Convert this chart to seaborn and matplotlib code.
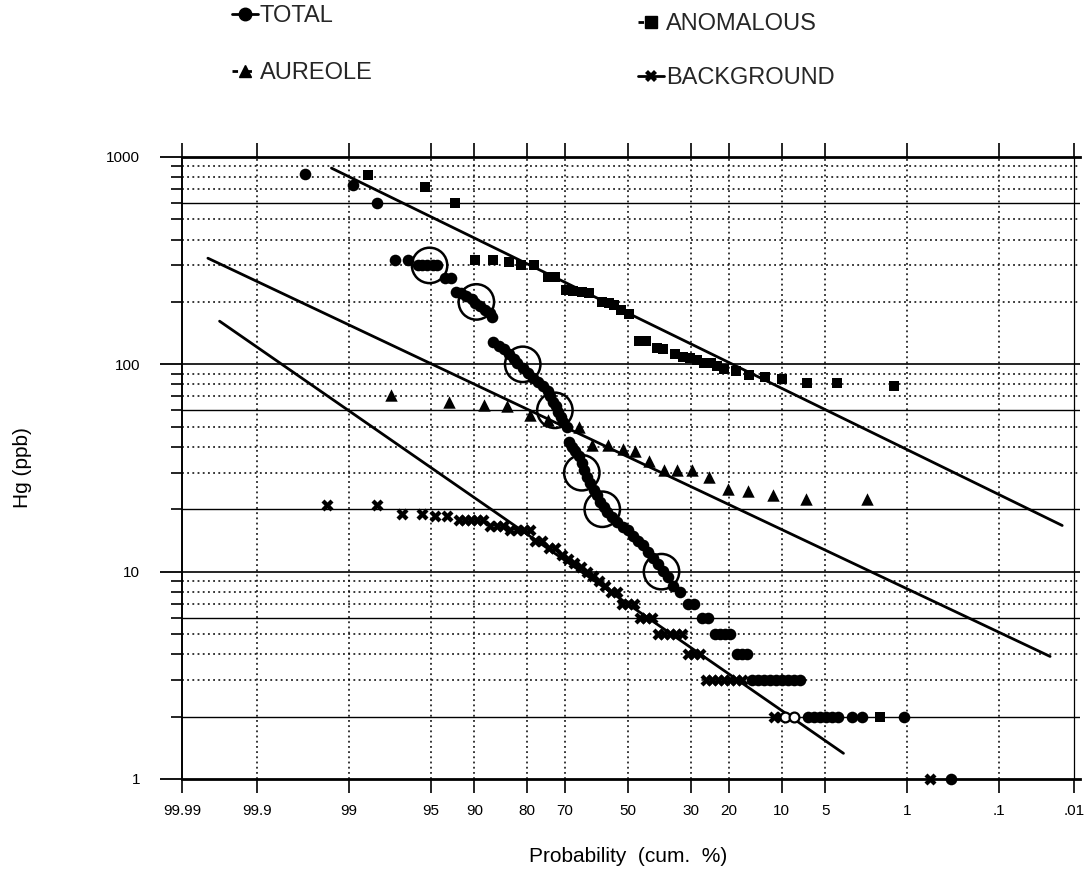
import numpy as np
import matplotlib
matplotlib.use("Agg")
import matplotlib.pyplot as plt
import seaborn as sns
from matplotlib.lines import Line2D
from matplotlib.ticker import FixedLocator, FixedFormatter, NullFormatter
from statistics import NormalDist

# ---------------- data (cumulative probability %, Hg ppb) ----------------
total_p = [99.65, 98.9, 98.2, 97.4, 96.7, 96.0, 95.7, 95.3, 94.8, 94.4, 93.7, 93.0,
           92.4, 91.8, 91.1, 90.4, 89.9, 89.1, 88.3, 87.5, 87.1,
           86.9, 85.9, 84.9, 83.9, 82.9, 82.2, 81.0, 79.9, 78.6, 77.4, 76.1, 74.7,
           74.1, 73.4, 72.6, 72.0, 71.2, 70.5, 69.5,
           69.0, 68.0, 67.0, 66.0, 65.0, 64.2, 63.4, 62.3, 61.2, 60.1, 59.1, 58.0,
           56.9, 55.2, 53.5, 51.8, 50.1, 48.4, 46.7, 45.1, 43.4, 41.7, 40.1, 38.4,
           36.8, 35.3, 33.3, 30.85, 29.1, 26.9, 25.2,
           23.4, 22.2, 20.9, 19.7, 18.2, 17.1, 16.0,
           15.06, 13.9, 12.8, 11.8, 10.86, 9.96, 9.1, 8.3, 7.57,
           6.67, 6.04, 5.47, 4.94, 4.45, 4.0, 3.09, 2.55, 1.08, 0.35]
total_hg = [830, 730, 600, 320, 320, 300, 300, 300, 300, 300, 260, 260,
            224, 220, 214, 206, 198, 191, 182, 176, 170,
            128, 123, 118, 112, 106, 102, 96, 91, 86, 82, 78.5, 74,
            70, 66, 63, 59, 56, 53, 50,
            42.4, 40, 38, 36, 33.3, 31, 28.7, 26.7, 24.8, 23.4, 21.7, 20.5,
            19.4, 18.3, 17.4, 16.4, 15.8, 14.9, 14.1, 13.4, 12.4, 11.7, 10.9, 10.1,
            9.4, 8.5, 8, 7, 7, 6, 6,
            5, 5, 5, 5, 4, 4, 4,
            3, 3, 3, 3, 3, 3, 3, 3, 3,
            2, 2, 2, 2, 2, 2, 2, 2, 2, 1]
total_open_p = [9.49, 8.29]
total_open_hg = [2, 2]

anomalous_p = [98.5, 95.5, 92.6, 89.9, 87.0, 83.9, 81.3, 78.3, 74.8, 72.9, 69.6, 67.6,
               65.0, 62.9, 58.5, 56.3, 54.7, 52.4, 49.6, 46.2, 44.0, 40.6, 38.5, 34.8,
               32.2, 30.2, 28.3, 26.4, 24.5, 22.8, 21.2, 18.4, 15.6, 12.7, 9.9, 6.8,
               4.1, 1.34, 1.77]
anomalous_hg = [820, 720, 600, 320, 320, 310, 302, 302, 264, 264, 229, 226,
                223, 221, 200, 197, 193, 182, 174, 130, 130, 120, 119, 112,
                109, 107, 105, 102, 101, 98, 95, 93, 89, 86.5, 85, 81.5,
                81.5, 79, 2]

aureole_p = [97.6, 93.2, 88.5, 84.4, 79.3, 74.8, 65.8, 61.8, 56.7, 51.7, 47.6, 43.0,
             38.2, 34.0, 29.6, 25.0, 20.3, 15.9, 11.4, 6.9, 2.3]
aureole_hg = [71, 66, 64, 63, 57, 54, 50, 41, 41, 39, 38, 34,
              31, 31, 31, 28.5, 25, 24.5, 23.5, 22.5, 22.5]

background_p = [99.4, 98.2, 97.0, 95.7, 94.6, 93.4, 92.1, 91.3, 90.5, 89.6, 88.7,
                87.5, 86.3, 85.2, 83.8, 82.3, 80.7, 79.3, 78.1, 76.3, 74.5, 72.9,
                70.9, 69.2, 67.4, 65.3, 63.4, 61.5, 59.6, 57.6, 55.6, 53.7,
                52.0, 50.0, 48.0, 46.0, 44.0, 42.1, 40.1, 38.2, 36.3, 34.5, 32.6,
                30.85, 29.1, 27.4, 25.8, 24.2, 22.7, 21.2, 19.8, 18.4, 17.1,
                11.2, 10.1, 0.59]
background_hg = [21, 21, 19, 19, 18.5, 18.5, 17.7, 17.7, 17.7, 17.7, 17.7,
                 16.6, 16.6, 16.6, 15.8, 15.8, 15.8, 15.8, 14, 14, 13, 13,
                 12, 11.5, 11, 10.5, 10, 9.5, 9, 8.5, 8, 8,
                 7, 7, 7, 6, 6, 6, 5, 5, 5, 5, 5,
                 4, 4, 4, 3, 3, 3, 3, 3, 3, 3,
                 2, 2, 1]

threshold_p = [95.1, 89.7, 81.0, 72.9, 65.0, 58.5, 39.0]
threshold_hg = [300, 200, 100, 60, 30, 20, 10]

anom_line_p = [99.33, 0.0147]
anom_line_hg = [884, 16.7]
aur_line_p = [99.977, 0.0216]
aur_line_hg = [325, 3.9]
bg_line_p = [99.967, 3.62]
bg_line_hg = [161.5, 1.33]

prob_ticks = [99.99, 99.9, 99, 95, 90, 80, 70, 50, 30, 20, 10, 5, 1, 0.1, 0.01]
prob_labels = ["99.99", "99.9", "99", "95", "90", "80", "70", "50", "30", "20",
               "10", "5", "1", ".1", ".01"]
hg_ticks = [1, 10, 100, 1000]
hg_labels = ["1", "10", "100", "1000"]

# ---------------- style ----------------
sns.set_theme(style="white")
plt.rcParams["font.family"] = ["Liberation Sans", "DejaVu Sans"]

_nd = NormalDist()
_ppf = np.vectorize(_nd.inv_cdf, otypes=[float])
_cdf = np.vectorize(_nd.cdf, otypes=[float])


def prob_forward(p):
    p = np.clip(np.asarray(p, dtype=float) / 100.0, 1e-12, 1 - 1e-12)
    return _ppf(p)


def prob_inverse(z):
    return _cdf(np.asarray(z, dtype=float)) * 100.0


W, H = 1089, 894
fig = plt.figure(figsize=(W / 100, H / 100), dpi=100)
ax = fig.add_axes([182 / W, 1 - 779 / H, (1080 - 182) / W, (779 - 157) / H])
ax.set_xscale("function", functions=(prob_forward, prob_inverse))
ax.set_yscale("log")
ax.set_xlim(99.99, 0.0082)
ax.set_ylim(1, 1000)

# grid lines (probability paper)
solid_minor = {600, 60, 20, 6, 2}
for dec in (1, 10, 100):
    for k in range(2, 10):
        v = k * dec
        if v in solid_minor:
            ax.axhline(v, color="black", lw=1.0, zorder=1)
        else:
            ax.axhline(v, color="black", lw=1.1, ls=(0, (1.2, 2.2)), zorder=1)
for v in (10, 100):
    ax.axhline(v, color="black", lw=1.2, zorder=1)
for p in prob_ticks[1:-1]:
    ax.axvline(p, color="black", lw=1.1, ls=(0, (1.2, 2.2)), zorder=1)
ax.axvline(prob_ticks[-1], color="black", lw=0.9, zorder=1)

# fitted lines
for lp, lh in ((anom_line_p, anom_line_hg), (aur_line_p, aur_line_hg), (bg_line_p, bg_line_hg)):
    sns.lineplot(x=lp, y=lh, color="black", lw=2.0, ax=ax, sort=False,
                 estimator=None, zorder=2)

# points
sns.scatterplot(x=background_p, y=background_hg, marker="X", s=75, color="black",
                linewidth=0, ax=ax, zorder=3, clip_on=False)
sns.scatterplot(x=aureole_p, y=aureole_hg, marker="^", s=80, color="black",
                linewidth=0, ax=ax, zorder=3)
sns.scatterplot(x=anomalous_p, y=anomalous_hg, marker="s", s=62, color="black",
                linewidth=0, ax=ax, zorder=3)
sns.scatterplot(x=total_p, y=total_hg, marker="o", s=70, color="black",
                linewidth=0, ax=ax, zorder=4, clip_on=False)
ax.scatter(total_open_p, total_open_hg, marker="o", s=50, facecolors="white",
           edgecolors="black", linewidths=1.6, zorder=4)
ax.scatter(threshold_p, threshold_hg, marker="o", s=650, facecolors="none",
           edgecolors="black", linewidths=1.8, zorder=5)

# axes / ticks
ax.spines["right"].set_visible(False)
ax.spines["top"].set_linewidth(2.0)
ax.spines["bottom"].set_linewidth(2.0)
ax.spines["left"].set_linewidth(1.4)
for s in ("top", "bottom", "left"):
    ax.spines[s].set_color("black")

ax.xaxis.set_major_locator(FixedLocator(prob_ticks))
ax.xaxis.set_major_formatter(FixedFormatter(prob_labels))
ax.xaxis.set_minor_locator(FixedLocator([]))
ax.yaxis.set_major_locator(FixedLocator(hg_ticks))
ax.yaxis.set_major_formatter(FixedFormatter(hg_labels))
minor_y = [k * d for d in (1, 10, 100) for k in range(2, 10)]
ax.yaxis.set_minor_locator(FixedLocator(minor_y))
ax.yaxis.set_minor_formatter(NullFormatter())

ax.tick_params(axis="x", which="major", direction="out", length=10, width=1.2,
               top=True, bottom=True, labeltop=False, labelsize=11, pad=8,
               colors="black")
ax.tick_params(axis="y", which="major", direction="out", length=16, width=1.3,
               left=True, labelsize=11, pad=14, colors="black")
ax.tick_params(axis="y", which="minor", direction="out", length=8, width=1.2,
               left=True, colors="black")

ax.set_xlabel("Probability  (cum.  %)", fontsize=15, color="black")
ax.set_ylabel("Hg (ppb)", fontsize=15, color="black")
ax.xaxis.set_label_coords(0.497, -0.124)
ax.xaxis.label.set_va("center")
ax.yaxis.set_label_coords(-0.178, 0.5)
ax.yaxis.label.set_va("center")

# legend (two columns)
h_total = Line2D([], [], color="black", marker="o", ls="-", lw=2, ms=9)
h_anom = Line2D([], [], color="black", marker="s", ls=(0, (2, 3)), lw=2, ms=8)
h_aur = Line2D([], [], color="black", marker="^", ls=(0, (2, 3)), lw=2, ms=9)
h_bg = Line2D([], [], color="black", marker="X", ls="-", lw=2, ms=9, mew=0)
fig.legend([h_total, h_aur], ["TOTAL", "AUREOLE"], loc="upper left",
           bbox_to_anchor=(232 / W, 1 - 5 / H), frameon=False, fontsize=17,
           handlelength=1.1, handletextpad=0.08, labelspacing=1.5,
           borderpad=0, borderaxespad=0)
fig.legend([h_anom, h_bg], ["ANOMALOUS", "BACKGROUND"], loc="upper left",
           bbox_to_anchor=(638 / W, 1 - 13 / H), frameon=False, fontsize=17,
           handlelength=1.1, handletextpad=0.08, labelspacing=1.35,
           borderpad=0, borderaxespad=0)

fig.savefig("out.png", dpi=100, facecolor="white")
